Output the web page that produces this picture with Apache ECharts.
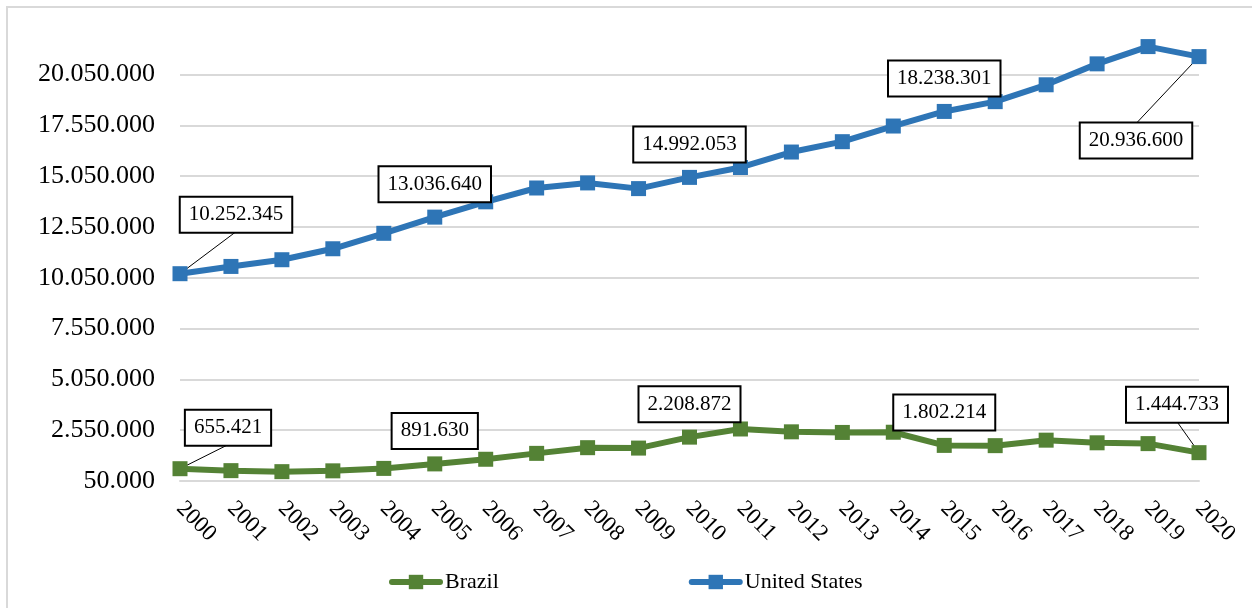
<!DOCTYPE html>
<html>
<head>
<meta charset="utf-8">
<script src="https://cdn.jsdelivr.net/npm/echarts@6/dist/echarts.min.js"></script>
<style>
  html, body { margin: 0; padding: 0; background: #fff; }
  #chart { width: 1252px; height: 608px; }
</style>
</head>
<body>
<div id="chart"></div>
<script>
// GDP series, 2000–2020
const years = ['2000','2001','2002','2003','2004','2005','2006','2007','2008','2009','2010',
               '2011','2012','2013','2014','2015','2016','2017','2018','2019','2020'];
const brazil = [655421, 560000, 510000, 550000, 670000, 891630, 1120000, 1410000, 1690000, 1670000,
                2208872, 2610000, 2470000, 2440000, 2450000, 1802214, 1790000, 2060000, 1930000, 1890000, 1444733];
const unitedStates = [10252345, 10610000, 10940000, 11480000, 12240000, 13036640, 13790000, 14470000, 14720000,
                      14440000, 14992053, 15480000, 16240000, 16750000, 17520000, 18238301, 18720000, 19550000,
                      20580000, 21430000, 20936600];
const labelledIndices = [0, 5, 10, 15, 20];
const axisMin = 50000;
const axisStep = 2500000;
const axisMax = 22000000;

const SERIF = '"Liberation Serif", "Times New Roman", serif';
const GREEN = '#548235';
const BLUE = '#2E75B6';
const BOX_H = 34;

// where each value box sits, as a shift (px) of its centre from the point;
// "lead" marks boxes joined to their point by a thin leader line
const boxPlacement = {
  'Brazil': {
    0: { dx: 48, dy: -41, lead: true },
    5: { dx: 0, dy: -33 },
    10: { dx: 0, dy: -33 },
    15: { dx: 0, dy: -33 },
    20: { dx: -22, dy: -48, lead: true }
  },
  'United States': {
    0: { dx: 56, dy: -59, lead: true },
    5: { dx: 0, dy: -33 },
    10: { dx: 0, dy: -33 },
    15: { dx: 0, dy: -33 },
    20: { dx: -63, dy: 84, lead: true }
  }
};

function dotted(v) {
  return String(Math.round(v)).replace(/\B(?=(\d{3})+(?!\d))/g, '.');
}

function buildData(values) {
  return values.map((v, i) => labelledIndices.includes(i)
    ? { value: v, label: { show: true } }
    : v);
}

function makeSeries(name, values, color) {
  return {
    name: name,
    type: 'line',
    data: buildData(values),
    symbol: 'rect',
    symbolSize: 15,
    lineStyle: { color: color, width: 6 },
    itemStyle: { color: color },
    label: {
      show: false,
      position: 'inside',
      formatter: p => dotted(p.value),
      fontFamily: SERIF,
      fontSize: 21,
      lineHeight: 24,
      color: '#000',
      backgroundColor: '#fff',
      borderColor: '#000',
      borderWidth: 2,
      padding: [5, 8]
    },
    labelLayout: function (params) {
      const b = boxPlacement[name][params.dataIndex];
      return b ? { dx: b.dx, dy: b.dy } : {};
    },
    emphasis: { disabled: true },
    animation: false
  };
}

const gridColors = [];
for (let v = axisMin; v <= axisMax; v += axisStep) gridColors.push('#d9d9d9');
gridColors.push('rgba(0,0,0,0)'); // no rule at the top edge

const chart = echarts.init(document.getElementById('chart'));
const seriesList = [
  makeSeries('Brazil', brazil, GREEN),
  makeSeries('United States', unitedStates, BLUE)
];
chart.setOption({
  backgroundColor: '#fff',
  animation: false,
  grid: { left: 180, right: 53, top: 35, bottom: 127 },
  legend: {
    left: 384,
    top: 566,
    itemGap: 190,
    itemWidth: 48,
    itemHeight: 18,
    lineStyle: { width: 6, cap: 'round' },
    textStyle: { fontFamily: SERIF, fontSize: 22, color: '#000' },
    data: ['Brazil', 'United States']
  },
  xAxis: {
    type: 'category',
    data: years,
    boundaryGap: false,
    axisLine: { show: true, lineStyle: { color: '#d9d9d9', width: 2 } },
    axisTick: { show: false },
    axisLabel: {
      rotate: -45,
      margin: 24,
      fontFamily: SERIF,
      fontSize: 23,
      color: '#000',
      interval: 0
    }
  },
  yAxis: {
    type: 'value',
    min: axisMin,
    max: axisMax,
    interval: axisStep,
    axisLine: { show: false },
    axisTick: { show: false },
    splitLine: { show: true, lineStyle: { color: gridColors, width: 2 } },
    axisLabel: {
      margin: 25,
      fontFamily: SERIF,
      fontSize: 26,
      color: '#000',
      showMaxLabel: false,
      formatter: v => dotted(v)
    }
  },
  series: seriesList
});

// chart frame plus leader lines from each pulled-away box to its point
const graphics = [{
  type: 'rect',
  shape: { x: 7, y: 7, width: 1260, height: 620 },
  style: { fill: 'none', stroke: '#d9d9d9', lineWidth: 2 },
  silent: true
}];
[['Brazil', brazil], ['United States', unitedStates]].forEach(([name, values]) => {
  Object.keys(boxPlacement[name]).forEach(k => {
    const b = boxPlacement[name][k];
    if (!b.lead) return;
    const i = Number(k);
    const p = chart.convertToPixel({ gridIndex: 0 }, [i, values[i]]);
    const edgeY = p[1] + b.dy + (b.dy < 0 ? BOX_H / 2 : -BOX_H / 2);
    graphics.push({
      type: 'line',
      shape: { x1: p[0], y1: p[1], x2: p[0] + b.dx, y2: edgeY },
      style: { stroke: '#000', lineWidth: 1 },
      z: 3,
      silent: true
    });
  });
});
chart.setOption({ graphic: graphics });
</script>
</body>
</html>
